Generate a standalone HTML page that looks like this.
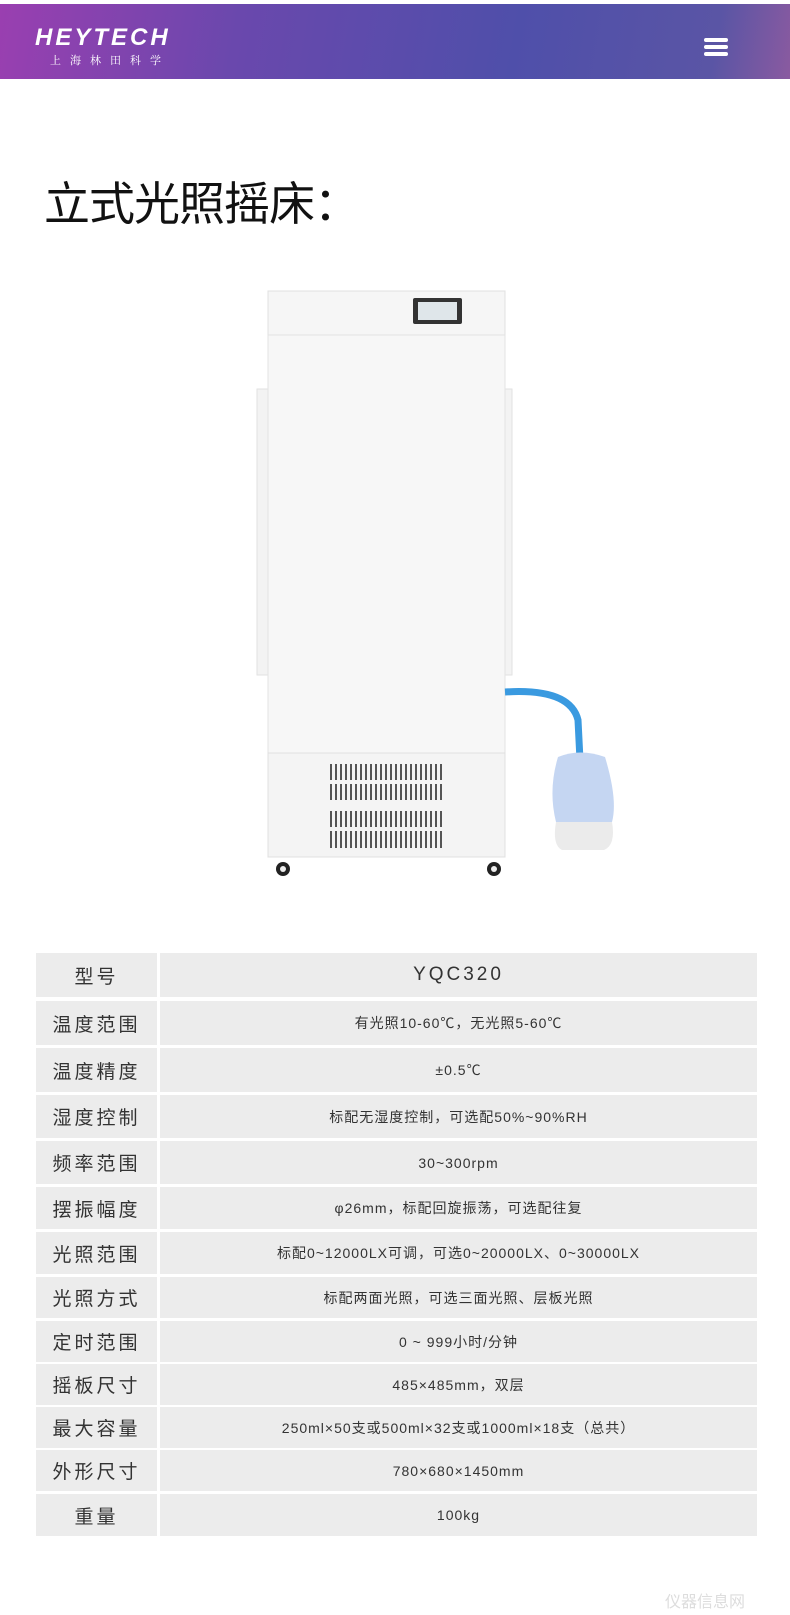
<!DOCTYPE html>
<html><head><meta charset="utf-8"><style>
*{margin:0;padding:0;box-sizing:border-box}
body{width:790px;height:1615px;background:#fff;position:relative;overflow:hidden;font-family:"Liberation Sans","Noto Sans CJK SC",sans-serif;color:#333}
.hdr{position:absolute;left:0;top:4px;width:790px;height:75px;background:linear-gradient(100deg,#9a3fb0 0%,#6a48ad 30%,#4f4faa 65%,#5a55a5 90%,#8a5aa0 100%)}
.logo{position:absolute;left:35px;top:20px;color:#fff;font-weight:bold;font-style:italic;font-size:24px;letter-spacing:3px}
.sub{position:absolute;left:50px;top:48px;color:#fff;font-size:11px;letter-spacing:9px;font-family:"Noto Serif CJK SC",serif}
.menu{position:absolute;left:704px;top:34px;width:24px}
.menu i{display:block;height:4px;background:#fff;border-radius:2px;margin-bottom:3px}
h1{position:absolute;left:44px;top:168px;font-size:46px;font-weight:normal;color:#111;letter-spacing:-1px;font-family:"Noto Sans CJK SC",sans-serif}
.row{position:absolute;left:36px;width:721px}
.c1,.c2{position:absolute;top:0;height:100%;background:#ececec;display:flex;align-items:center;justify-content:center}
.c1{left:0;width:121px;font-size:19px;letter-spacing:3px}
.c2{left:124px;width:597px;font-size:14px;letter-spacing:1px}
</style></head><body>
<div class="hdr">
<div class="logo">HEYTECH</div>
<div class="sub">上海林田科学</div>
<div class="menu"><i></i><i></i><i></i></div>
</div>
<h1>立式光照摇床：</h1>

<svg style="position:absolute;left:0;top:0" width="790" height="900">
<defs><pattern id="v" width="5" height="200" patternUnits="userSpaceOnUse"><rect x="0" y="0" width="2" height="200" fill="#555"/></pattern></defs>
<rect x="257" y="389" width="255" height="286" fill="#f3f3f3" stroke="#e2e2e2"/>
<rect x="268" y="291" width="237" height="44" fill="#f6f6f6" stroke="#e0e0e0"/>
<rect x="413" y="298" width="49" height="26" rx="2" fill="#333"/>
<rect x="418" y="302" width="39" height="18" fill="#dfe6ea"/>
<rect x="268" y="335" width="237" height="418" fill="#f7f7f7" stroke="#e3e3e3"/>
<rect x="268" y="753" width="237" height="104" fill="#f4f4f4" stroke="#e0e0e0"/>
<rect x="327" y="764" width="118" height="16" fill="url(#v)"/>
<rect x="327" y="784" width="118" height="16" fill="url(#v)"/>
<rect x="327" y="811" width="118" height="16" fill="url(#v)"/>
<rect x="327" y="831" width="118" height="17" fill="url(#v)"/>
<circle cx="283" cy="869" r="7" fill="#222"/><circle cx="283" cy="869" r="3" fill="#eee"/>
<circle cx="494" cy="869" r="7" fill="#222"/><circle cx="494" cy="869" r="3" fill="#eee"/>
<path d="M505 692 Q570 688 578 720 L580 760" stroke="#3a9ae0" stroke-width="7" fill="none"/>
<path d="M558 757 Q580 748 605 757 Q618 800 612 822 L556 822 Q548 790 558 757Z" fill="#c5d6f2"/>
<path d="M556 822 L612 822 Q616 845 604 850 L562 850 Q552 845 556 822Z" fill="#ebebeb"/>
</svg>

<div class="row" style="top:953px;height:44px"><div class="c1">型号</div><div class="c2" style="font-size:19px;letter-spacing:3px">YQC320</div></div>
<div class="row" style="top:1001px;height:44px"><div class="c1">温度范围</div><div class="c2">有光照10-60℃，无光照5-60℃</div></div>
<div class="row" style="top:1048px;height:44px"><div class="c1">温度精度</div><div class="c2">±0.5℃</div></div>
<div class="row" style="top:1095px;height:43px"><div class="c1">湿度控制</div><div class="c2">标配无湿度控制，可选配50%~90%RH</div></div>
<div class="row" style="top:1141px;height:43px"><div class="c1">频率范围</div><div class="c2">30~300rpm</div></div>
<div class="row" style="top:1187px;height:42px"><div class="c1">摆振幅度</div><div class="c2">φ26mm，标配回旋振荡，可选配往复</div></div>
<div class="row" style="top:1232px;height:42px"><div class="c1">光照范围</div><div class="c2">标配0~12000LX可调，可选0~20000LX、0~30000LX</div></div>
<div class="row" style="top:1277px;height:41px"><div class="c1">光照方式</div><div class="c2">标配两面光照，可选三面光照、层板光照</div></div>
<div class="row" style="top:1321px;height:41px"><div class="c1">定时范围</div><div class="c2">0 ~ 999小时/分钟</div></div>
<div class="row" style="top:1364px;height:41px"><div class="c1">摇板尺寸</div><div class="c2">485×485mm，双层</div></div>
<div class="row" style="top:1407px;height:41px"><div class="c1">最大容量</div><div class="c2">250ml×50支或500ml×32支或1000ml×18支（总共）</div></div>
<div class="row" style="top:1450px;height:41px"><div class="c1">外形尺寸</div><div class="c2">780×680×1450mm</div></div>
<div class="row" style="top:1494px;height:42px"><div class="c1">重量</div><div class="c2">100kg</div></div>
<div style="position:absolute;left:665px;top:1588px;color:#ddd;font-size:16px">仪器信息网</div>
</body></html>
